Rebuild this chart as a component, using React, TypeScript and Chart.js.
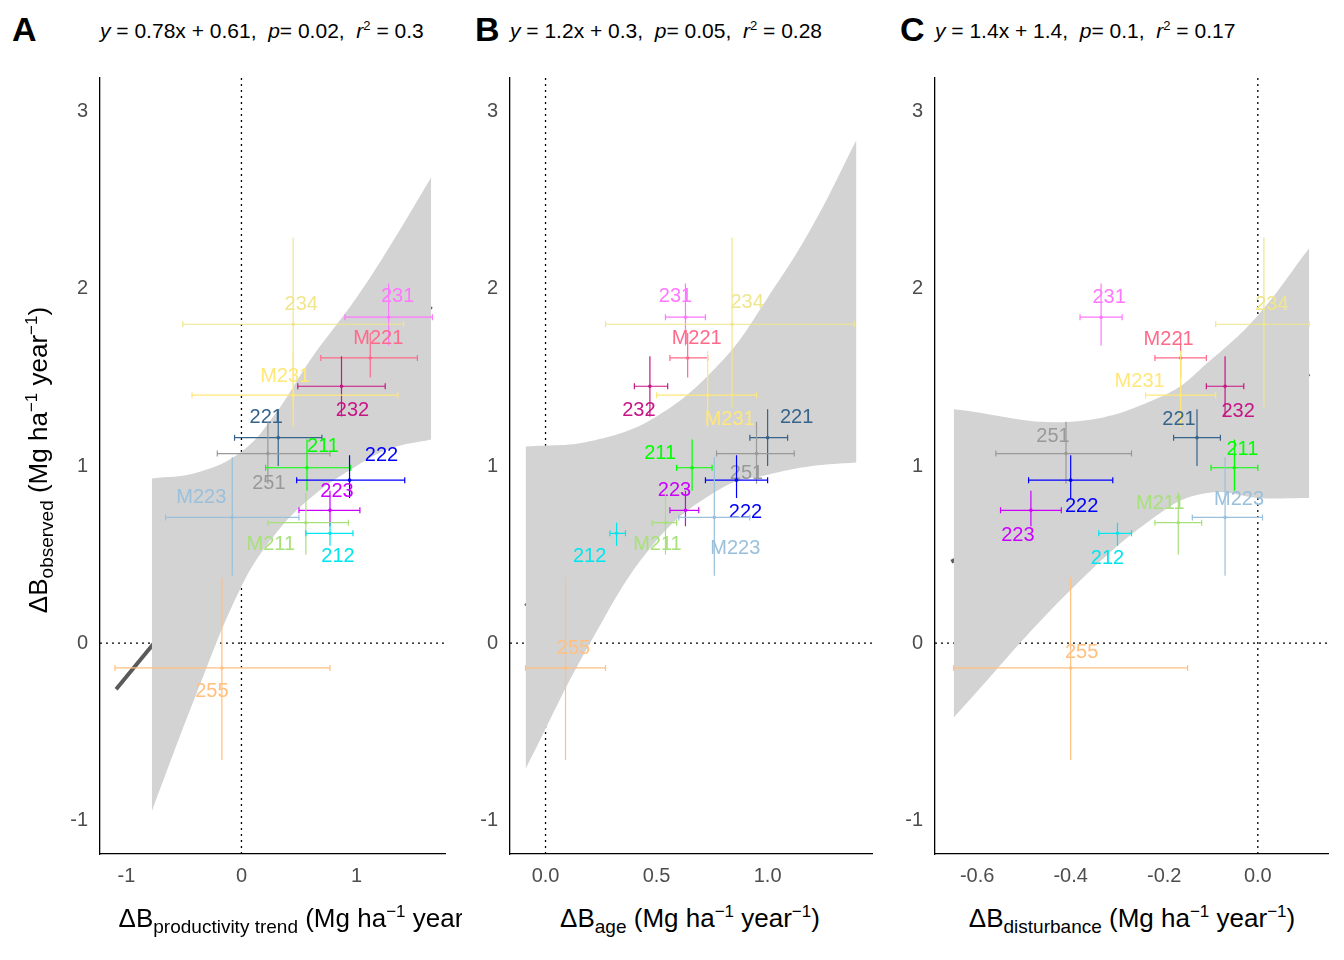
import React, { useEffect, useRef } from "react";
import { Chart, registerables } from "chart.js";

Chart.register(...registerables);

const regions = ["231", "234", "M221", "232", "M231", "221", "251", "211", "222", "223", "M223", "M211", "212", "255"];
const colors = ["#FF77FF", "#F0E68C", "#FF6A8A", "#C71585", "#FFE77A", "#36648B", "#999999", "#00FF00", "#0000FF", "#CC00FF", "#9AC0DC", "#A8E07A", "#00E5EE", "#FFC080"];

const obsY = [1.84, 1.8, 1.61, 1.45, 1.4, 1.16, 1.07, 0.99, 0.92, 0.75, 0.71, 0.68, 0.62, -0.14];
const obsLo = [1.68, 1.33, 1.5, 1.28, 1.22, 1.0, 0.9, 0.86, 0.82, 0.66, 0.38, 0.5, 0.55, -0.66];
const obsHi = [2.03, 2.29, 1.75, 1.62, 1.65, 1.32, 1.25, 1.15, 1.06, 0.86, 1.05, 0.85, 0.68, 0.37];

const prodX = [1.28, 0.45, 1.12, 0.87, 0.45, 0.32, 0.23, 0.57, 0.94, 0.77, -0.08, 0.56, 0.77, -0.17];
const prodLo = [0.9, -0.51, 0.69, 0.49, -0.43, -0.06, -0.21, 0.21, 0.48, 0.5, -0.66, 0.23, 0.56, -1.1];
const prodHi = [1.66, 1.41, 1.53, 1.25, 1.36, 0.7, 0.77, 0.95, 1.42, 1.03, 0.5, 0.93, 0.97, 0.77];

const ageX = [0.63, 0.84, 0.64, 0.47, 0.73, 1.0, 0.95, 0.66, 0.86, 0.63, 0.76, 0.54, 0.32, 0.09];
const ageLo = [0.54, 0.27, 0.56, 0.4, 0.5, 0.92, 0.77, 0.59, 0.72, 0.56, 0.6, 0.48, 0.29, -0.09];
const ageHi = [0.72, 1.39, 0.73, 0.55, 0.95, 1.09, 1.12, 0.75, 1.0, 0.69, 0.92, 0.59, 0.36, 0.27];

const distX = [-0.335, 0.013, -0.165, -0.07, -0.165, -0.13, -0.41, -0.05, -0.4, -0.485, -0.07, -0.17, -0.3, -0.4];
const distLo = [-0.38, -0.09, -0.22, -0.11, -0.24, -0.18, -0.56, -0.1, -0.49, -0.55, -0.14, -0.22, -0.34, -0.65];
const distHi = [-0.29, 0.11, -0.11, -0.03, -0.09, -0.08, -0.27, 0.0, -0.31, -0.42, 0.01, -0.12, -0.27, -0.15];

// label offsets (px) per panel
const labelOffA = [[9, -21], [8, -20], [8, -19], [11, 24], [-8, -19], [-12, -20], [1, 30], [16, -21], [32, -25], [7, -19], [-31, -20], [-35, 22], [8, 23], [-10, 24]];
const labelOffB = [[-10, -21], [15, -22], [9, -19], [-11, 24], [22, 24], [29, -20], [-10, 20], [-32, -14], [9, 32], [-11, -20], [21, 31], [-8, 22], [-27, 23], [8, -19]];
const labelOffC = [[8, -20], [8, -20], [-12, -18], [13, 25], [-41, -14], [-18, -18], [-13, -17], [8, -18], [11, 26], [-13, 25], [14, -18], [-18, -19], [-10, 25], [11, -15]];

const bandXA = [-0.78, -0.4, 0, 0.3, 0.6, 1.0, 1.3, 1.65];
const bandUpA = [0.93, 0.96, 1.08, 1.3, 1.6, 1.95, 2.25, 2.63];
const bandLoA = [-0.95, -0.3, 0.32, 0.62, 0.82, 1.0, 1.1, 1.15];
const bandXB = [-0.09, 0.2, 0.5, 0.8, 1.0, 1.2, 1.4];
const bandUpB = [1.11, 1.14, 1.28, 1.6, 1.95, 2.35, 2.84];
const bandLoB = [-0.71, 0.0, 0.58, 0.88, 0.95, 1.0, 1.02];
const bandXC = [-0.65, -0.4, -0.2, -0.1, 0, 0.11];
const bandUpC = [1.32, 1.25, 1.4, 1.6, 1.85, 2.23];
const bandLoC = [-0.42, 0.3, 0.75, 0.85, 0.82, 0.82];

const fitXA = [-1.09, 1.65];
const fitYA = [-0.26, 1.9];
const fitXB = [-0.09, 1.39];
const fitYB = [0.21, 1.93];
const fitXC = [-0.655, 0.11];
const fitYC = [0.46, 1.52];

const yTicks = [-1, 0, 1, 2, 3];
const FONT = "'Liberation Sans', Arial, sans-serif";

interface PanelProps {
  xs: number[]; xlo: number[]; xhi: number[];
  offs: number[][];
  bandX: number[]; bandUp: number[]; bandLo: number[];
  fitX: number[]; fitY: number[];
  xmin: number; xmax: number; xTicks: number[]; dec: number;
  left: number; width: number;
}

const Panel: React.FC<PanelProps> = (p) => {
  const ref = useRef<HTMLCanvasElement>(null);
  useEffect(() => {
    if (!ref.current) return;
    const errPlugin = {
      id: "err",
      afterDatasetsDraw(chart: any) {
        const ctx = chart.ctx;
        const xs = chart.scales.x, ys = chart.scales.y;
        ctx.save();
        regions.forEach((r, i) => {
          const px = xs.getPixelForValue(p.xs[i]);
          const py = ys.getPixelForValue(obsY[i]);
          ctx.strokeStyle = colors[i];
          ctx.fillStyle = colors[i];
          ctx.lineWidth = 1.2;
          const x1 = xs.getPixelForValue(p.xlo[i]), x2 = xs.getPixelForValue(p.xhi[i]);
          ctx.beginPath();
          ctx.moveTo(x1, py); ctx.lineTo(x2, py);
          ctx.moveTo(x1, py - 3); ctx.lineTo(x1, py + 3);
          ctx.moveTo(x2, py - 3); ctx.lineTo(x2, py + 3);
          ctx.moveTo(px, ys.getPixelForValue(obsLo[i])); ctx.lineTo(px, ys.getPixelForValue(obsHi[i]));
          ctx.stroke();
          ctx.beginPath(); ctx.arc(px, py, 1.8, 0, Math.PI * 2); ctx.fill();
          ctx.font = `20px ${FONT}`;
          ctx.textAlign = "center"; ctx.textBaseline = "middle";
          ctx.fillText(r, px + p.offs[i][0], py + p.offs[i][1]);
        });
        ctx.restore();
      },
    };
    const dotted = { borderColor: "#000", borderWidth: 1.3, borderDash: [2, 4], pointRadius: 0, fill: false };
    const chart = new Chart(ref.current, {
      type: "line",
      data: {
        datasets: [
          { data: p.bandX.map((x, i) => ({ x, y: p.bandUp[i] })), borderWidth: 0, pointRadius: 0, fill: false, tension: 0.4, borderColor: "rgba(0,0,0,0)" },
          { data: p.bandX.map((x, i) => ({ x, y: p.bandLo[i] })), borderWidth: 0, pointRadius: 0, fill: "-1", tension: 0.4, backgroundColor: "#D3D3D3", borderColor: "rgba(0,0,0,0)" },
          { data: [{ x: p.xmin, y: 0 }, { x: p.xmax, y: 0 }], ...dotted },
          { data: [{ x: 0, y: -1.19 }, { x: 0, y: 3.19 }], ...dotted },
          { data: p.fitX.map((x, i) => ({ x, y: p.fitY[i] })), borderColor: "#5A5A5A", borderWidth: 4, pointRadius: 0, fill: false },
        ] as any,
      },
      options: {
        animation: false,
        responsive: false,
        plugins: { legend: { display: false }, tooltip: { enabled: false } },
        layout: { padding: { top: 6, right: 5, left: 0, bottom: 0 } },
        scales: {
          x: {
            type: "linear", min: p.xmin, max: p.xmax,
            afterBuildTicks: (s: any) => { s.ticks = p.xTicks.map((v) => ({ value: v })); },
            afterFit: (s: any) => { s.height = 46; },
            grid: { display: false, drawTicks: true, tickLength: 6, tickColor: "#333" },
            border: { color: "#000", width: 1.3 },
            ticks: { color: "#4D4D4D", font: { size: 20, family: FONT }, callback: (v: any) => Number(v).toFixed(p.dec), padding: 4, maxRotation: 0 },
          },
          y: {
            type: "linear", min: -1.19, max: 3.19,
            afterBuildTicks: (s: any) => { s.ticks = yTicks.map((v) => ({ value: v })); },
            afterFit: (s: any) => { s.width = 50; },
            grid: { display: false, drawTicks: true, tickLength: 6, tickColor: "#333" },
            border: { color: "#000", width: 1.3 },
            ticks: { color: "#4D4D4D", font: { size: 20, family: FONT }, padding: 6 },
          },
        },
      },
      plugins: [errPlugin],
    } as any);
    return () => chart.destroy();
  }, []);
  return (
    <canvas ref={ref} width={p.width} height={840}
      style={{ position: "absolute", left: p.left, top: 60, width: p.width, height: 840 }} />
  );
};

const eqStyle: React.CSSProperties = { position: "absolute", top: 18, fontSize: 21, fontFamily: FONT, whiteSpace: "pre" };
const letterStyle: React.CSSProperties = { position: "absolute", top: 10, fontSize: 34, fontWeight: "bold", fontFamily: FONT };
const axStyle: React.CSSProperties = { position: "absolute", top: 902, fontSize: 26, fontFamily: FONT, whiteSpace: "nowrap", transform: "translateX(-50%)" };
const sub: React.CSSProperties = { fontSize: 19 };

const Eq = ({ a, p, r }: { a: string; p: string; r: string }) => (
  <span>
    <i>y</i> = {a},  <i>p</i>= {p},  <i>r</i><sup style={{ fontSize: 13 }}>2</sup> = {r}
  </span>
);

const Unit = () => (
  <span> (Mg ha<sup style={{ fontSize: 17 }}>−1</sup> year<sup style={{ fontSize: 17 }}>−1</sup>)</span>
);

export default function App() {
  return (
    <div style={{ position: "absolute", left: 0, top: 0, width: 1344, height: 960, background: "#fff", overflow: "hidden" }}>
      <div style={{ ...letterStyle, left: 12 }}>A</div>
      <div style={{ ...eqStyle, left: 100 }}><Eq a="0.78x + 0.61" p="0.02" r="0.3" /></div>
      <div style={{ ...letterStyle, left: 475 }}>B</div>
      <div style={{ ...eqStyle, left: 510 }}><Eq a="1.2x + 0.3" p="0.05" r="0.28" /></div>
      <div style={{ ...letterStyle, left: 900 }}>C</div>
      <div style={{ ...eqStyle, left: 935 }}><Eq a="1.4x + 1.4" p="0.1" r="0.17" /></div>

      <Panel xs={prodX} xlo={prodLo} xhi={prodHi} offs={labelOffA} bandX={bandXA} bandUp={bandUpA} bandLo={bandLoA}
        fitX={fitXA} fitY={fitYA} xmin={-1.23} xmax={1.77} xTicks={[-1, 0, 1]} dec={0} left={50} width={400} />
      <Panel xs={ageX} xlo={ageLo} xhi={ageHi} offs={labelOffB} bandX={bandXB} bandUp={bandUpB} bandLo={bandLoB}
        fitX={fitXB} fitY={fitYB} xmin={-0.16} xmax={1.47} xTicks={[0, 0.5, 1]} dec={1} left={460} width={417} />
      <Panel xs={distX} xlo={distLo} xhi={distHi} offs={labelOffC} bandX={bandXC} bandUp={bandUpC} bandLo={bandLoC}
        fitX={fitXC} fitY={fitYC} xmin={-0.69} xmax={0.15} xTicks={[-0.6, -0.4, -0.2, 0]} dec={1} left={885} width={448} />

      <div style={{ position: "absolute", left: 40, top: 460, fontSize: 26, fontFamily: FONT, whiteSpace: "nowrap", transform: "translate(-50%,-50%) rotate(-90deg)" }}>
        ΔB<sub style={sub}>observed</sub><Unit />
      </div>
      <div style={{ position: "absolute", left: 0, top: 0, width: 462, height: 960, overflow: "hidden" }}>
        <div style={{ ...axStyle, left: 305 }}>ΔB<sub style={sub}>productivity trend</sub><Unit /></div>
      </div>
      <div style={{ ...axStyle, left: 690 }}>ΔB<sub style={sub}>age</sub><Unit /></div>
      <div style={{ ...axStyle, left: 1132 }}>ΔB<sub style={sub}>disturbance</sub><Unit /></div>
    </div>
  );
}
